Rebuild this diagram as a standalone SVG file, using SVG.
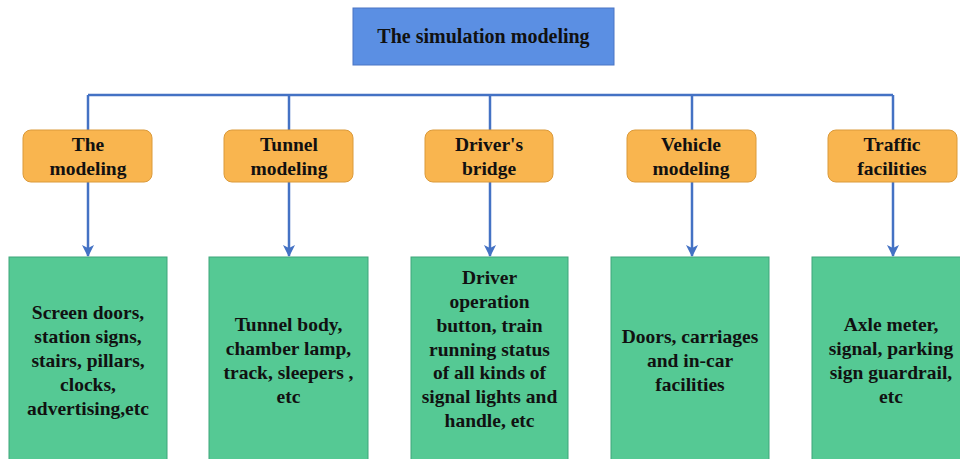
<svg xmlns="http://www.w3.org/2000/svg" width="960" height="459" viewBox="0 0 960 459">
<style>
text{font-family:"Liberation Serif","Times New Roman",serif;font-weight:bold;fill:#111;text-anchor:middle}
.t{font-size:20px}
.o{font-size:19.5px}
.g{font-size:19.5px}
.top{fill:#5B8FE3;stroke:#4A74C4;stroke-width:1}
.mid{fill:#F9B54F;stroke:#DB9A3A;stroke-width:1}
.leaf{fill:#55C994;stroke:#3FA57A;stroke-width:1}
.c{stroke:#4472C4;stroke-width:2.5;fill:none}
</style>
<defs>
<marker id="ah" markerWidth="12" markerHeight="12" refX="11" refY="6" orient="auto" markerUnits="userSpaceOnUse">
<path d="M0,0 L12,6 L0,12 L3,6 Z" fill="#4472C4"/>
</marker>
</defs>
<rect width="960" height="459" fill="#fff"/>
<g id="connectors">
<path class="c" d="M88,95 H893"/>
<path class="c" d="M88,95 V130"/>
<path class="c" d="M289,95 V130"/>
<path class="c" d="M490,95 V130"/>
<path class="c" d="M692,95 V130"/>
<path class="c" d="M893,95 V130"/>
<path class="c" d="M88,182 V256" marker-end="url(#ah)"/>
<path class="c" d="M289,182 V256" marker-end="url(#ah)"/>
<path class="c" d="M490,182 V256" marker-end="url(#ah)"/>
<path class="c" d="M692,182 V256" marker-end="url(#ah)"/>
<path class="c" d="M893,182 V256" marker-end="url(#ah)"/>
</g>
<g id="root">
<rect class="top" x="353" y="8" width="261" height="57"/>
<text class="t" x="483.5" y="43">The simulation modeling</text>
</g>
<g id="m1">
<rect class="mid" x="23" y="130" width="129" height="52" rx="8"/>
<text class="o" x="88" y="151">The</text>
<text class="o" x="88" y="175">modeling</text>
</g>
<g id="m2">
<rect class="mid" x="224" y="130" width="129" height="52" rx="8"/>
<text class="o" x="289" y="151">Tunnel</text>
<text class="o" x="289" y="175">modeling</text>
</g>
<g id="m3">
<rect class="mid" x="425" y="130" width="128" height="52" rx="8"/>
<text class="o" x="489" y="151">Driver's</text>
<text class="o" x="489" y="175">bridge</text>
</g>
<g id="m4">
<rect class="mid" x="627" y="130" width="129" height="52" rx="8"/>
<text class="o" x="691" y="151">Vehicle</text>
<text class="o" x="691" y="175">modeling</text>
</g>
<g id="m5">
<rect class="mid" x="828" y="130" width="129" height="52" rx="8"/>
<text class="o" x="892" y="151">Traffic</text>
<text class="o" x="892" y="175">facilities</text>
</g>
<g id="l1">
<rect class="leaf" x="9" y="257" width="158" height="210"/>
<text class="g" x="88" y="319">Screen doors,</text>
<text class="g" x="88" y="343">station signs,</text>
<text class="g" x="88" y="367">stairs, pillars,</text>
<text class="g" x="88" y="391">clocks,</text>
<text class="g" x="88" y="415">advertising,etc</text>
</g>
<g id="l2">
<rect class="leaf" x="209" y="257" width="159" height="210"/>
<text class="g" x="288.5" y="331">Tunnel body,</text>
<text class="g" x="288.5" y="355">chamber lamp,</text>
<text class="g" x="288.5" y="379">track, sleepers ,</text>
<text class="g" x="288.5" y="403">etc</text>
</g>
<g id="l3">
<rect class="leaf" x="411" y="257" width="157" height="210"/>
<text class="g" x="489.5" y="284">Driver</text>
<text class="g" x="489.5" y="308">operation</text>
<text class="g" x="489.5" y="331.5">button, train</text>
<text class="g" x="489.5" y="355.5">running status</text>
<text class="g" x="489.5" y="379">of all kinds of</text>
<text class="g" x="489.5" y="403">signal lights and</text>
<text class="g" x="489.5" y="427">handle, etc</text>
</g>
<g id="l4">
<rect class="leaf" x="611" y="257" width="158" height="210"/>
<text class="g" x="690" y="343">Doors, carriages</text>
<text class="g" x="690" y="367">and in-car</text>
<text class="g" x="690" y="391">facilities</text>
</g>
<g id="l5">
<rect class="leaf" x="812" y="257" width="158" height="210"/>
<text class="g" x="891" y="331">Axle meter,</text>
<text class="g" x="891" y="355">signal, parking</text>
<text class="g" x="891" y="379">sign guardrail,</text>
<text class="g" x="891" y="403">etc</text>
</g>
</svg>
